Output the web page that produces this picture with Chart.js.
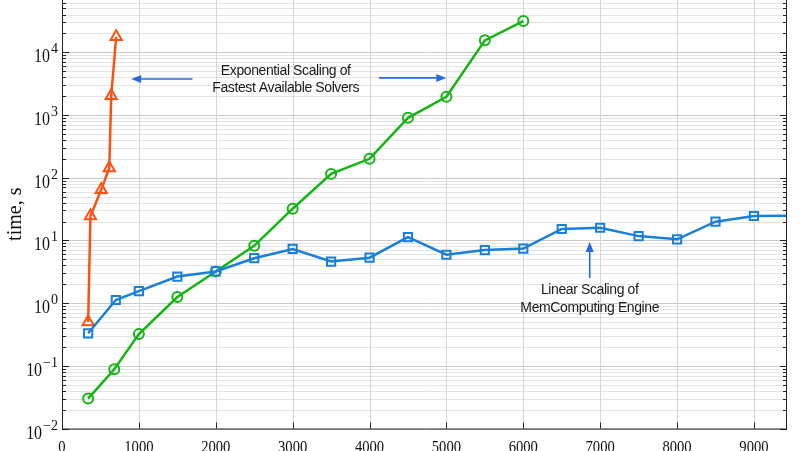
<!DOCTYPE html>
<html><head><meta charset="utf-8">
<script src="https://cdn.jsdelivr.net/npm/chart.js@4"></script>
<style>html,body{margin:0;padding:0;background:#fff}#wrap{width:800px;height:451px;position:relative}</style>
</head><body><div id="wrap"><canvas id="c" width="800" height="451"></canvas></div>
<script>
// ---- data ----
const orangeX = [340, 370, 510, 615, 640, 705];
const orangeY = [0.5, 24.5, 64, 143, 2030, 17700];
const greenX = [340, 680, 1000, 1500, 2000, 2500, 3000, 3500, 4000, 4500, 5000, 5500, 6000];
const greenY = [0.03, 0.088, 0.32, 1.25, 3.2, 8.2, 32, 115, 200, 900, 1950, 15500, 31500];
const blueX = [340, 700, 1000, 1500, 2000, 2500, 3000, 3500, 4000, 4500, 5000, 5500, 6000, 6500, 7000, 7500, 8000, 8500, 9000, 10000];
const blueY = [0.33, 1.12, 1.55, 2.65, 3.2, 5.2, 7.3, 4.6, 5.3, 11.3, 5.9, 7.0, 7.4, 15.2, 15.9, 11.7, 10.4, 19.9, 24.5, 25];
const xTickValues = [0, 1000, 2000, 3000, 4000, 5000, 6000, 7000, 8000, 9000];
const xTickLabels = ['0', '1000', '2000', '3000', '4000', '5000', '6000', '7000', '8000', '9000'];
const yTickValues = [0.01, 0.1, 1, 10, 100, 1000, 10000, 100000];
const yTickExps = ['\u22122', '\u22121', '0', '1', '2', '3', '4', '5'];
const yAxisTitle = 'time, s';
const xMin = 0, xMax = 9430, yMin = 0.01, yMax = 68200;

// annotations in data coordinates
const notes = [
  {lines: ['Exponential Scaling of', 'Fastest Available Solvers'], x: 2910, y: [5090, 2667]},
  {lines: ['Linear Scaling of', 'MemComputing Engine'], x: 6864, y: [1.58, 0.835]}
];
const arrows = [
  {from: [1696, 3750], to: [900, 3750]},
  {from: [4124, 3900], to: [4998, 3900]},
  {from: [6864, 2.5], to: [6864, 9.4]}
];

const pts = (xs, ys) => xs.map((x, i) => ({x: x, y: ys[i]}));
const ORANGE = '#ff5014', GREEN = '#14b414', BLUE = '#1a7fd6', ARROW = '#2468e6';
const SERIF = '"Liberation Serif", "Times New Roman", serif';

function logValues() {
  const out = [];
  for (let e = -2; e <= 5; e++) {
    for (let k = 1; k <= 9; k++) {
      const v = k * Math.pow(10, e);
      if (v >= yMin * 0.999 && v <= yMax) out.push({v: v, major: k === 1});
    }
  }
  return out;
}

const framePlugin = {
  id: 'frame',
  beforeDatasetsDraw(chart) {
    const ctx = chart.ctx, a = chart.chartArea;
    const xs = chart.scales.x, ys = chart.scales.y;
    ctx.save();
    ctx.lineWidth = 1;
    logValues().forEach(t => {
      const y = Math.round(ys.getPixelForValue(t.v)) + 0.5;
      ctx.strokeStyle = t.major ? '#cbcbcb' : '#e4e4e4';
      ctx.beginPath(); ctx.moveTo(a.left, y); ctx.lineTo(a.right, y); ctx.stroke();
    });
    ctx.strokeStyle = '#d6d6d6';
    xTickValues.forEach(v => {
      const x = Math.round(xs.getPixelForValue(v)) + 0.5;
      ctx.beginPath(); ctx.moveTo(x, a.top); ctx.lineTo(x, a.bottom); ctx.stroke();
    });
    ctx.restore();
  },
  afterDraw(chart) {
    const ctx = chart.ctx, a = chart.chartArea;
    const xs = chart.scales.x, ys = chart.scales.y;
    ctx.save();
    ctx.strokeStyle = '#222';
    ctx.lineWidth = 1;
    ctx.beginPath();
    ctx.moveTo(a.left + 0.5, a.top);
    ctx.lineTo(a.left + 0.5, a.bottom + 0.5);
    ctx.lineTo(a.right - 0.5, a.bottom + 0.5);
    ctx.lineTo(a.right - 0.5, a.top);
    ctx.stroke();
    ctx.beginPath();
    logValues().forEach(t => {
      const y = Math.round(ys.getPixelForValue(t.v)) + 0.5;
      const L = t.major ? 7 : 4;
      ctx.moveTo(a.left, y); ctx.lineTo(a.left + L, y);
      ctx.moveTo(a.right, y); ctx.lineTo(a.right - L, y);
    });
    xTickValues.forEach(v => {
      const x = Math.round(xs.getPixelForValue(v)) + 0.5;
      ctx.moveTo(x, a.bottom); ctx.lineTo(x, a.bottom - 6);
    });
    ctx.stroke();
    // x tick labels
    ctx.fillStyle = '#111';
    ctx.font = '17px ' + SERIF;
    ctx.textAlign = 'center';
    ctx.textBaseline = 'alphabetic';
    xTickValues.forEach((v, i) => {
      ctx.save();
      ctx.translate(xs.getPixelForValue(v), a.bottom + 23);
      ctx.scale(0.86, 1);
      ctx.fillText(xTickLabels[i], 0, 0);
      ctx.restore();
    });
    // y tick labels
    const rightX = a.left - 4;
    yTickValues.forEach((v, i) => {
      const y = ys.getPixelForValue(v);
      if (y < -12 || y > a.bottom + 1) return;
      ctx.textAlign = 'right';
      ctx.textBaseline = 'alphabetic';
      ctx.font = '14px ' + SERIF;
      const ew = ctx.measureText(yTickExps[i]).width;
      ctx.fillText(yTickExps[i], rightX, y + 1);
      ctx.save();
      ctx.translate(rightX - ew - 1, y + 10);
      ctx.scale(0.84, 1);
      ctx.font = '19px ' + SERIF;
      ctx.fillText('10', 0, 0);
      ctx.restore();
    });
    // y title
    ctx.save();
    ctx.translate(16, (a.top + a.bottom) / 2);
    ctx.rotate(-Math.PI / 2);
    ctx.textAlign = 'center';
    ctx.textBaseline = 'middle';
    ctx.font = '20px ' + SERIF;
    ctx.fillText(yAxisTitle, 0, 0);
    ctx.restore();
    // annotations
    ctx.fillStyle = '#1a1a1a';
    ctx.font = '14px "Liberation Sans", Arial, sans-serif';
    try { ctx.letterSpacing = '-0.4px'; } catch (e) {}
    ctx.textAlign = 'center';
    ctx.textBaseline = 'middle';
    notes.forEach(n => {
      n.lines.forEach((s, i) => {
        ctx.fillText(s, xs.getPixelForValue(n.x), ys.getPixelForValue(n.y[i]));
      });
    });
    try { ctx.letterSpacing = '0px'; } catch (e) {}
    ctx.strokeStyle = ARROW; ctx.fillStyle = ARROW; ctx.lineWidth = 1.6;
    arrows.forEach(ar => {
      const x1 = xs.getPixelForValue(ar.from[0]), y1 = ys.getPixelForValue(ar.from[1]);
      const x2 = xs.getPixelForValue(ar.to[0]), y2 = ys.getPixelForValue(ar.to[1]);
      const ang = Math.atan2(y2 - y1, x2 - x1), hl = 10, hw = 4;
      const bx = x2 - Math.cos(ang) * hl, by = y2 - Math.sin(ang) * hl;
      ctx.beginPath(); ctx.moveTo(x1, y1); ctx.lineTo(bx, by); ctx.stroke();
      ctx.beginPath();
      ctx.moveTo(x2, y2);
      ctx.lineTo(bx + Math.sin(ang) * hw, by - Math.cos(ang) * hw);
      ctx.lineTo(bx - Math.sin(ang) * hw, by + Math.cos(ang) * hw);
      ctx.closePath(); ctx.fill();
    });
    ctx.restore();
  }
};

const ds = (label, data, color, style, r) => ({
  label: label, data: data, borderColor: color, backgroundColor: 'rgba(0,0,0,0)',
  borderWidth: 2.5, pointStyle: style, pointRadius: r, pointHoverRadius: r,
  pointBorderWidth: 2, pointBorderColor: color, pointBackgroundColor: 'rgba(255,255,255,0)',
  tension: 0, showLine: true, fill: false
});

new Chart(document.getElementById('c'), {
  type: 'line',
  data: {
    datasets: [
      ds('MemComputing', pts(blueX, blueY), BLUE, 'rect', 5.8),
      ds('Solver B', pts(greenX, greenY), GREEN, 'circle', 5),
      ds('Solver A', pts(orangeX, orangeY), ORANGE, 'triangle', 6.5)
    ]
  },
  options: {
    responsive: false, animation: false, devicePixelRatio: 1,
    layout: {autoPadding: false, padding: {left: 62, right: 13, top: 0, bottom: 22.5}},
    plugins: {legend: {display: false}, tooltip: {enabled: false}},
    scales: {
      x: {
        type: 'linear', min: xMin, max: xMax, bounds: 'data',
        ticks: {display: false, stepSize: 1000},
        afterFit: s => { s.height = 0; s.paddingLeft = 0; s.paddingRight = 0; },
        grid: {display: false, drawTicks: false},
        border: {display: false}
      },
      y: {
        type: 'logarithmic', min: yMin, max: yMax, bounds: 'data',
        ticks: {display: false},
        afterFit: s => { s.width = 0; s.paddingTop = 0; s.paddingBottom = 0; },
        grid: {display: false, drawTicks: false},
        border: {display: false}
      }
    }
  },
  plugins: [framePlugin]
});
</script></body></html>
